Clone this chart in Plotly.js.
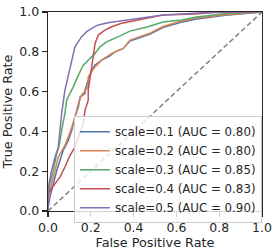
<!DOCTYPE html>
<html><head><meta charset="utf-8">
<script src="https://cdn.plot.ly/plotly-3.0.1.min.js"></script>
<style>html,body{margin:0;padding:0;background:#fff}</style>
</head><body><div id="chart" style="width:277px;height:252px"></div>
<script>
var names = ["scale=0.1 (AUC = 0.80)","scale=0.2 (AUC = 0.80)","scale=0.3 (AUC = 0.85)","scale=0.4 (AUC = 0.83)","scale=0.5 (AUC = 0.90)"];
var colors = ["#4c72b0","#dd8452","#55a868","#c44e52","#8172b3"];

var fpr1 = [0,0,0.009,0.025,0.041,0.071,0.095,0.111,0.126,0.142,0.150,0.173,0.173,0.188,0.204,0.220,0.251,0.282,0.313,0.352,0.383,0.477,0.537,0.617,0.695,0.818,0.944,1];
var tpr1 = [0,0.013,0.070,0.139,0.204,0.304,0.355,0.406,0.473,0.523,0.573,0.590,0.607,0.657,0.708,0.733,0.758,0.775,0.800,0.817,0.854,0.889,0.922,0.947,0.965,0.982,0.995,1];

var fpr2 = [0,0,0.005,0.017,0.033,0.048,0.079,0.103,0.126,0.142,0.157,0.173,0.188,0.188,0.220,0.251,0.298,0.352,0.383,0.477,0.537,0.617,0.695,0.818,0.944,1];
var tpr2 = [0,0.038,0.070,0.139,0.204,0.271,0.330,0.395,0.473,0.542,0.582,0.607,0.624,0.674,0.724,0.758,0.792,0.817,0.859,0.894,0.927,0.952,0.970,0.985,0.996,1];

var fpr3 = [0,0,0.001,0.009,0.025,0.041,0.051,0.064,0.079,0.087,0.111,0.118,0.142,0.165,0.188,0.220,0.243,0.274,0.329,0.383,0.467,0.537,0.625,0.695,0.835,0.975,1];
var tpr3 = [0,0.063,0.088,0.139,0.204,0.290,0.321,0.406,0.491,0.557,0.607,0.624,0.683,0.733,0.758,0.792,0.825,0.850,0.876,0.904,0.926,0.950,0.960,0.975,0.993,1.0,1];

var fpr4 = [0,0,0.009,0.033,0.056,0.079,0.095,0.103,0.126,0.150,0.165,0.173,0.188,0.188,0.204,0.212,0.220,0.235,0.266,0.298,0.344,0.537,0.687,0.78,1];
var tpr4 = [0,0.088,0.103,0.139,0.170,0.221,0.260,0.280,0.321,0.390,0.441,0.506,0.557,0.607,0.724,0.792,0.842,0.884,0.909,0.926,0.943,0.985,0.990,0.997,1];

var fpr5 = [0,0,0.001,0.005,0.017,0.033,0.048,0.056,0.064,0.079,0.103,0.126,0.157,0.181,0.204,0.235,0.280,0.344,0.383,0.537,0.625,0.78,1];
var tpr5 = [0,0.09,0.103,0.139,0.204,0.271,0.321,0.406,0.491,0.607,0.724,0.825,0.876,0.901,0.918,0.935,0.946,0.955,0.960,0.985,0.990,1.0,1];

var chanceX = [0,1];
var chanceY = [0,1];

var xs = [fpr1,fpr2,fpr3,fpr4,fpr5];
var ys = [tpr1,tpr2,tpr3,tpr4,tpr5];
var traces = [];
for (var i=0;i<5;i++){
  traces.push({x:xs[i], y:ys[i], mode:'lines', name:names[i], line:{color:colors[i], width:1.5}, type:'scatter'});
}
traces.push({x:chanceX, y:chanceY, mode:'lines', showlegend:false, line:{color:'#808080', width:1.5, dash:'5px,3px'}, type:'scatter'});

var font = {family:'DejaVu Sans', size:12.5, color:'#262626'};
var tfont = {family:'DejaVu Sans', size:12.8, color:'#262626'};
var axisCommon = {range:[0,1], dtick:0.2, tickformat:'.1f', ticks:'outside', ticklen:5, tickwidth:1.2, tickcolor:'#262626',
  showline:true, linecolor:'#262626', linewidth:1.3, mirror:true, showgrid:false, zeroline:false, tickfont:font, fixedrange:true};
var layout = {
  width:277, height:252,
  margin:{l:48, r:15, t:12, b:41},
  paper_bgcolor:'#fff', plot_bgcolor:'#fff',
  font:font,
  xaxis:Object.assign({}, axisCommon, {title:{text:'False Positive Rate', font:tfont, standoff:0}}),
  yaxis:Object.assign({}, axisCommon, {title:{text:'True Positive Rate', font:tfont, standoff:3}}),
  showlegend:true,
  legend:{x:0.121, y:0.476, xanchor:'left', yanchor:'top', bgcolor:'rgba(255,255,255,0.8)', bordercolor:'#cccccc', borderwidth:1,
    font:{family:'DejaVu Sans', size:11.8, color:'#262626'}, tracegroupgap:0, itemwidth:30}
};
Plotly.newPlot('chart', traces, layout, {displayModeBar:false, staticPlot:true});
</script></body></html>
